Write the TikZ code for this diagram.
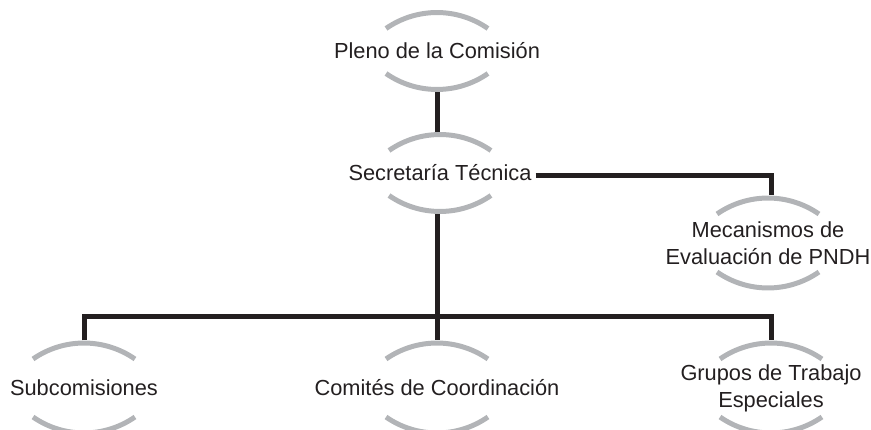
\documentclass[tikz,border=0pt]{standalone}
\usepackage{fontspec}
\setmainfont{Liberation Sans}
\usetikzlibrary{calc}
\definecolor{inkblack}{HTML}{231F20}
\definecolor{arcgray}{HTML}{B2B4B7}

\begin{document}
\begin{tikzpicture}[x=1pt,y=1pt,
  unit/.style={inner xsep=4pt, inner ysep=0pt, align=center, text=inkblack,
    font=\fontsize{21.8}{27}\selectfont},
  short/.style={unit, minimum height=82pt},
  tall/.style={unit, minimum height=95pt},
  link/.style={draw=inkblack, line width=5pt},
  arcline/.style={draw=arcgray, line width=5pt}]
  \useasboundingbox (0,0) rectangle (871,429);
  \node [short] (pleno) at (437,378) {Pleno de la Comisión};
  \node [short] (secre) at (440,256) {Secretaría Técnica};
  \node [tall] (meca) at (768,186) {Mecanismos de\\Evaluación de PNDH};
  \node [tall] (subc) at (84,41) {Subcomisiones};
  \node [tall] (comi) at (437,41) {Comités de Coordinación};
  \node [tall] (grup) at (771,41) {Grupos de Trabajo\\Especiales};
  \coordinate (bar) at (437,112);
  % half arcs above and below each unit
  \foreach \n/\g in {pleno/22.5, secre/22.5, meca/29, subc/29, comi/29, grup/29} {
    \draw [arcline] ($(\n.center)+(-51,\g)$) arc [start angle=124.8, end angle=55.2, radius=89.3pt];
    \draw [arcline] ($(\n.center)+(-51,-\g)$) arc [start angle=235.2, end angle=304.8, radius=89.3pt];
  }
  \draw [link] (pleno.south -| pleno.center) -- (secre.north -| pleno.center);
  \draw [link] ([yshift=-3pt]secre.east) -| ([xshift=3pt]meca.north);
  \draw [link] (secre.south -| bar) -- (comi.north);
  \draw [link] (subc.north) |- (bar) -| (grup.north);
\end{tikzpicture}
\end{document}
